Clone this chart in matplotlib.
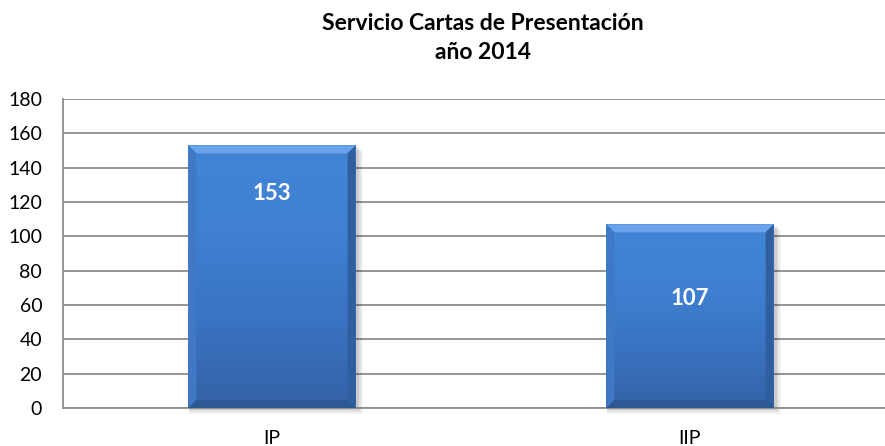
import numpy as np
import matplotlib.pyplot as plt
from matplotlib.patches import Polygon, Rectangle
from matplotlib.colors import LinearSegmentedColormap

plt.rcParams['font.family'] = ['Lato', 'DejaVu Sans']

categorias = ['IP', 'IIP']
valores = [153, 107]
titulo = 'Servicio Cartas de Presentación\naño 2014'

W, H = 885, 446
fig = plt.figure(figsize=(W / 100, H / 100), dpi=100)
# plot area runs past the right edge of the canvas
ax_l, ax_r, ax_b, ax_t = 63, 899, 38, 347
ax = fig.add_axes([ax_l / W, ax_b / H, (ax_r - ax_l) / W, (ax_t - ax_b) / H])

ax.set_xlim(-0.5, len(categorias) - 0.5)
ax.set_ylim(0, 180)
ax.set_yticks(np.arange(0, 181, 20))
ax.set_xticks(range(len(categorias)))
ax.set_xticklabels(categorias)
ax.tick_params(length=0, labelsize=14, colors='black')
ax.tick_params(axis='y', pad=15)
ax.tick_params(axis='x', pad=16)
ax.yaxis.grid(True, color='#8c8c8c', linewidth=1.3)
ax.set_axisbelow(True)
for s in ['top', 'right']:
    ax.spines[s].set_visible(False)
for s in ['left', 'bottom']:
    ax.spines[s].set_color('#8c8c8c')
    ax.spines[s].set_linewidth(1.3)

ancho = 0.4
barras = ax.bar(range(len(categorias)), valores, width=ancho, color='none', zorder=3)

# pixel -> data scale for bevel and shadow
px_x = (len(categorias)) / (ax_r - ax_l)
px_y = 180 / (ax_t - ax_b)
bev = 8

cmap = LinearSegmentedColormap.from_list('azul', ['#3462a6', '#3a73c2', '#3f80d2', '#4285d6'])
grad = np.linspace(0, 1, 256).reshape(-1, 1)

# vertical placement of the value labels inside each bar
pos_etiqueta = [125, 63.5]

for b, v, ye in zip(barras, valores, pos_etiqueta):
    x0 = b.get_x()
    x1 = x0 + b.get_width()
    y0, y1 = 0, b.get_height()

    # soft shadow to the right and below
    for k, a in [(6, 0.05), (4, 0.07), (2, 0.09)]:
        ax.add_patch(Rectangle((x0 + 1 * px_x, y0 - k * px_y), (x1 - x0) + k * px_x, y1 - y0,
                               facecolor='black', alpha=a, edgecolor='none', zorder=2.5,
                               clip_on=False))

    ax.imshow(grad, extent=[x0, x1, y0, y1], origin='lower', cmap=cmap,
              aspect='auto', zorder=3, interpolation='bilinear')

    dx, dy = bev * px_x, bev * px_y
    # top bevel
    ax.add_patch(Polygon([(x0, y1), (x1, y1), (x1 - dx, y1 - dy), (x0 + dx, y1 - dy)],
                         closed=True, facecolor='#6aa3ea', edgecolor='none', zorder=4))
    # left bevel
    ax.add_patch(Polygon([(x0, y0), (x0, y1), (x0 + dx, y1 - dy), (x0 + dx, y0 + dy)],
                         closed=True, facecolor='#3f78c4', edgecolor='none', zorder=4))
    # right bevel
    ax.add_patch(Polygon([(x1, y0), (x1, y1), (x1 - dx, y1 - dy), (x1 - dx, y0 + dy)],
                         closed=True, facecolor='#2f5f9f', edgecolor='none', zorder=4))
    # bottom bevel
    ax.add_patch(Polygon([(x0, y0), (x1, y0), (x1 - dx, y0 + dy), (x0 + dx, y0 + dy)],
                         closed=True, facecolor='#2c5894', edgecolor='none', zorder=4))

    ax.text(b.get_x() + b.get_width() / 2, ye, str(v), ha='center', va='center',
            color='white', fontsize=16, fontweight='bold', zorder=5)

fig.text(483 / W, 1 - 38 / H, titulo, ha='center', va='center', fontsize=16.5,
         fontweight='bold', linespacing=1.5)

fig.savefig('out.png', dpi=100)
